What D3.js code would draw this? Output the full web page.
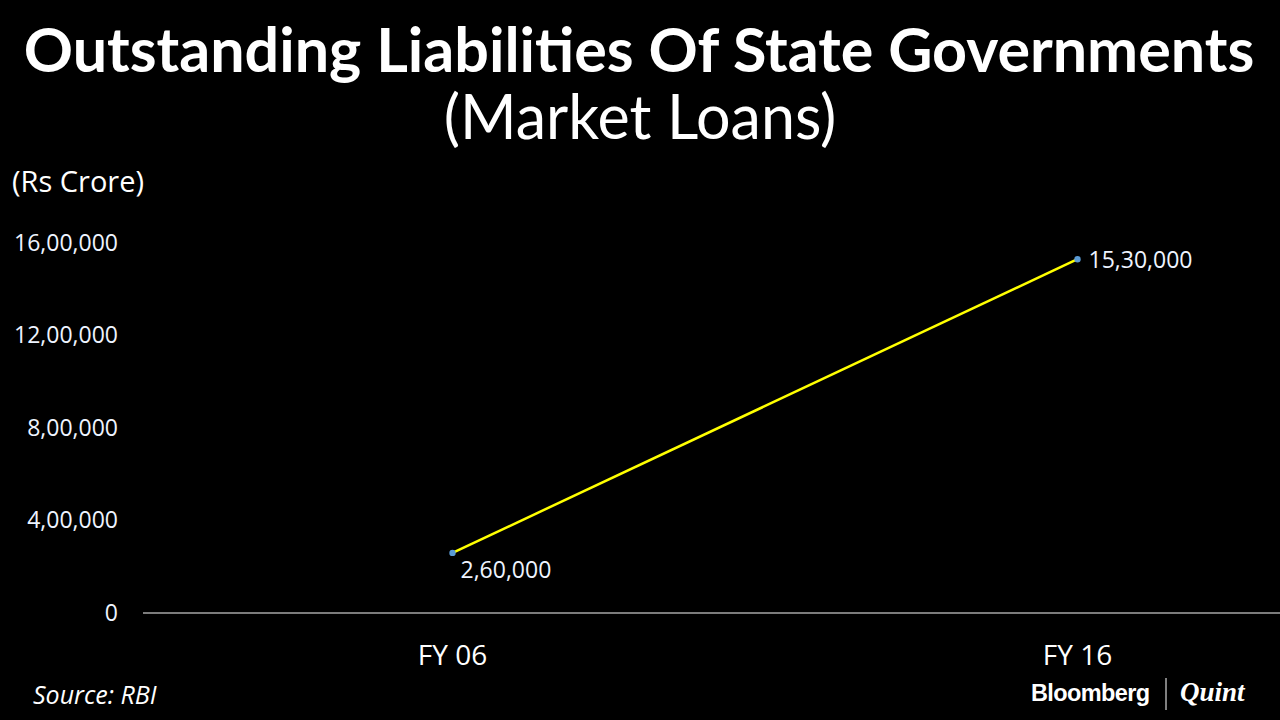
<!DOCTYPE html>
<html><head><meta charset="utf-8">
<script src="https://cdn.jsdelivr.net/npm/d3@7"></script>
<style>html,body{margin:0;padding:0;background:#000;}svg{display:block;}</style>
</head><body>
<svg id="c" width="1280" height="720"></svg>
<script>
const categories = ["FY 06", "FY 16"];
const values = [260000, 1530000];
const valueLabels = ["2,60,000", "15,30,000"];
const yTicks = [0, 400000, 800000, 1200000, 1600000];
const yTickLabels = ["0", "4,00,000", "8,00,000", "12,00,000", "16,00,000"];

const svg = d3.select("#c");
svg.append("rect").attr("width",1280).attr("height",720).attr("fill","#000");

const x = d3.scaleBand().domain(categories).range([140, 1390]);
const y = d3.scaleLinear().domain([0, 1600000]).range([613, 243]);
const cx = d => x(d) + x.bandwidth()/2;

// title
svg.append("text").attr("x",639).attr("y",72).attr("text-anchor","middle")
  .attr("font-family","Lato").attr("font-weight","bold").attr("font-size",61).attr("fill","#fff")
  .text("Outstanding Liabilities Of State Governments");
svg.append("text").attr("x",640).attr("y",139).attr("text-anchor","middle")
  .attr("font-family","Lato").attr("font-size",61).attr("fill","#fff")
  .text("(Market Loans)");

svg.append("text").attr("x",12).attr("y",192)
  .attr("font-family","Open Sans").attr("font-size",29).attr("fill","#fff").text("(Rs Crore)");

// y axis
const yAxis = d3.axisLeft(y).tickValues(yTicks).tickFormat((d,i)=>yTickLabels[i]).tickSize(0).tickPadding(0);
const ga = svg.append("g").attr("transform","translate(118,0)").call(yAxis);
ga.select(".domain").remove();
ga.selectAll("text").attr("font-family","Open Sans").attr("font-size",23).attr("fill","#eef4ff");

// baseline
svg.append("line").attr("x1",143).attr("x2",1280).attr("y1",y(0)).attr("y2",y(0))
  .attr("stroke","#a6a6a6").attr("stroke-width",1.5);

// x axis
const xAxis = d3.axisBottom(x).tickSize(0).tickPadding(0);
const gx = svg.append("g").attr("transform","translate(0,665)").call(xAxis);
gx.select(".domain").remove();
gx.selectAll("text").attr("font-family","Open Sans").attr("font-size",28).attr("fill","#fff").attr("dy","0");

// line
const line = d3.line().x((d,i)=>cx(categories[i])).y(d=>y(d));
svg.append("path").datum(values).attr("d",line).attr("fill","none")
  .attr("stroke","#ffff00").attr("stroke-width",2.5);
svg.selectAll("circle.pt").data(values).enter().append("circle")
  .attr("cx",(d,i)=>cx(categories[i])).attr("cy",d=>y(d)).attr("r",3.2).attr("fill","#5b9bd5");

// value labels
svg.append("text").attr("x",cx(categories[0])+8).attr("y",y(values[0])+25)
  .attr("font-family","Open Sans").attr("font-size",23).attr("fill","#eef4ff").text(valueLabels[0]);
svg.append("text").attr("x",cx(categories[1])+11).attr("y",y(values[1])+9)
  .attr("font-family","Open Sans").attr("font-size",23).attr("fill","#eef4ff").text(valueLabels[1]);

// source
svg.append("text").attr("x",33).attr("y",704).attr("font-family","Open Sans").attr("font-style","italic")
  .attr("font-size",25).attr("fill","#fff").text("Source: RBI");

// branding
svg.append("text").attr("x",1031).attr("y",701).attr("font-family","Liberation Sans").attr("font-weight","bold")
  .attr("font-size",23.5).attr("fill","#fff").attr("letter-spacing",-0.6).text("Bloomberg");
svg.append("line").attr("x1",1166).attr("x2",1166).attr("y1",678).attr("y2",710).attr("stroke","#fff").attr("stroke-width",1);
svg.append("text").attr("x",1180).attr("y",701).attr("font-family","Liberation Serif").attr("font-style","italic").attr("font-weight","bold")
  .attr("font-size",27).attr("fill","#fff").text("Quint");
</script>
</body></html>
